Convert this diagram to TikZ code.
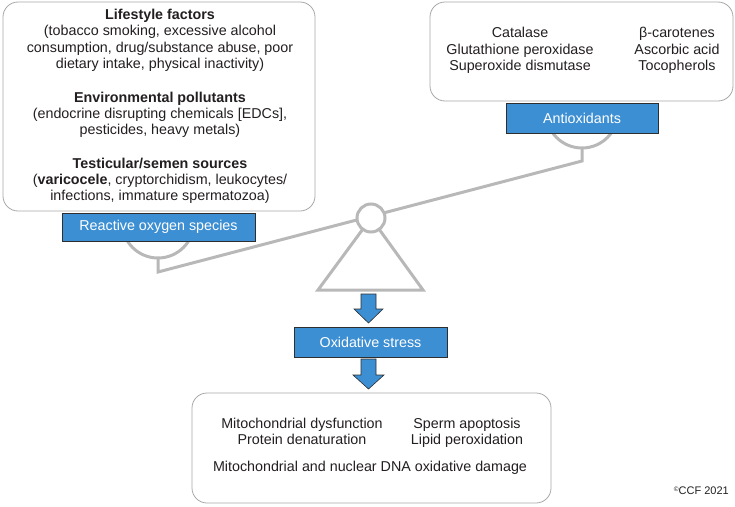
\documentclass[tikz,border=0pt]{standalone}
\usepackage{fontspec}
\setmainfont{Liberation Sans}
\definecolor{txt}{HTML}{231F20}
\definecolor{boxline}{HTML}{A8A8A8}
\definecolor{balgray}{HTML}{B8B8B8}
\definecolor{lblue}{HTML}{3D8FD3}
\definecolor{lborder}{HTML}{2E2E2E}
\begin{document}
\begin{tikzpicture}[x=1pt,y=-1pt,
  panel/.style={draw=boxline, line width=0.8pt, rounded corners=15pt, fill=white, inner sep=0pt},
  tag/.style={draw=lborder, fill=lblue, text=white, line width=0.8pt, inner sep=0pt,
    font=\fontsize{14.3}{16}\selectfont},
  body/.style={text=txt, align=center, inner sep=0pt, font=\fontsize{14.3}{16.3}\selectfont},
  bal/.style={draw=balgray, line width=3pt},
  blockarrow/.style={fill=lblue, draw=lborder, line width=0.6pt, line join=miter}
]
\useasboundingbox (0,0) rectangle (735,506);

% balance (drawn first, behind labels)
\draw[bal] (122,222) arc[start angle=180, end angle=0, radius=36];
\draw[bal] (546,112) arc[start angle=180, end angle=0, radius=36];
\coordinate (bl) at (158,272);
\coordinate (br) at (582,161);
\draw[bal, line join=miter] (158,258) -- (bl) -- (br) -- (582,148);
\draw[bal, line join=miter] (371,218) -- (318,290) -- (423,290) -- cycle;
\node[draw=balgray, line width=3pt, circle, fill=white, minimum size=28pt, inner sep=0pt] (pivot) at (371,218) {};

% panels
\node[panel, minimum width=312pt, minimum height=209pt] (ros panel) at (159,106.5) {};
\node[panel, minimum width=303pt, minimum height=99pt] (aox panel) at (581.5,51.5) {};
\node[panel, minimum width=359pt, minimum height=110pt] (out panel) at (371.5,448) {};

% labels
\node[tag, minimum width=193pt, minimum height=28pt] (ros) at (158.5,227) {Reactive oxygen species};
\node[tag, minimum width=152pt, minimum height=30pt] (aox) at (582,118) {Antioxidants};
\node[tag, minimum width=153pt, minimum height=30pt] (ox) at (370.5,342) {Oxidative stress};

% texts
\node[body] (ros text) at (160,107) {%
\strut\textbf{Lifestyle factors}\\
(tobacco smoking, excessive alcohol\\
consumption, drug/substance abuse, poor\\
dietary intake, physical inactivity)\\[17.5pt]
\textbf{Environmental pollutants}\\
(endocrine disrupting chemicals [EDCs],\\
pesticides, heavy metals)\\[17pt]
\textbf{Testicular/semen sources}\\
(\textbf{varicocele}, cryptorchidism, leukocytes/\\
infections, immature spermatozoa)\strut};

\node[body] (aox left) at (520,51) {\strut Catalase\\Glutathione peroxidase\\Superoxide dismutase\strut};
\node[body] (aox right) at (677,51) {\strut β-carotenes\\Ascorbic acid\\Tocopherols\strut};

\node[body] (out left) at (302,433) {\strut Mitochondrial dysfunction\\Protein denaturation\strut};
\node[body] (out right) at (467,433) {\strut Sperm apoptosis\\Lipid peroxidation\strut};
\node[body] (out dna) at (370,468) {\strut Mitochondrial and nuclear DNA oxidative damage};

% block arrows
\draw[blockarrow] (361,294) -- (376,294) -- (376,309) -- (383,309) -- (368.5,323) -- (354,309) -- (361,309) -- cycle;
\draw[blockarrow] (361,359) -- (376,359) -- (376,375) -- (384,375) -- (368.5,389) -- (353,375) -- (361,375) -- cycle;

% copyright
\node[text=txt, inner sep=0pt, anchor=east, font=\fontsize{11}{13}\selectfont] (copy) at (729,491) {\raisebox{0.5ex}{\fontsize{6.5}{7}\selectfont ©}CCF 2021};
\end{tikzpicture}
\end{document}
